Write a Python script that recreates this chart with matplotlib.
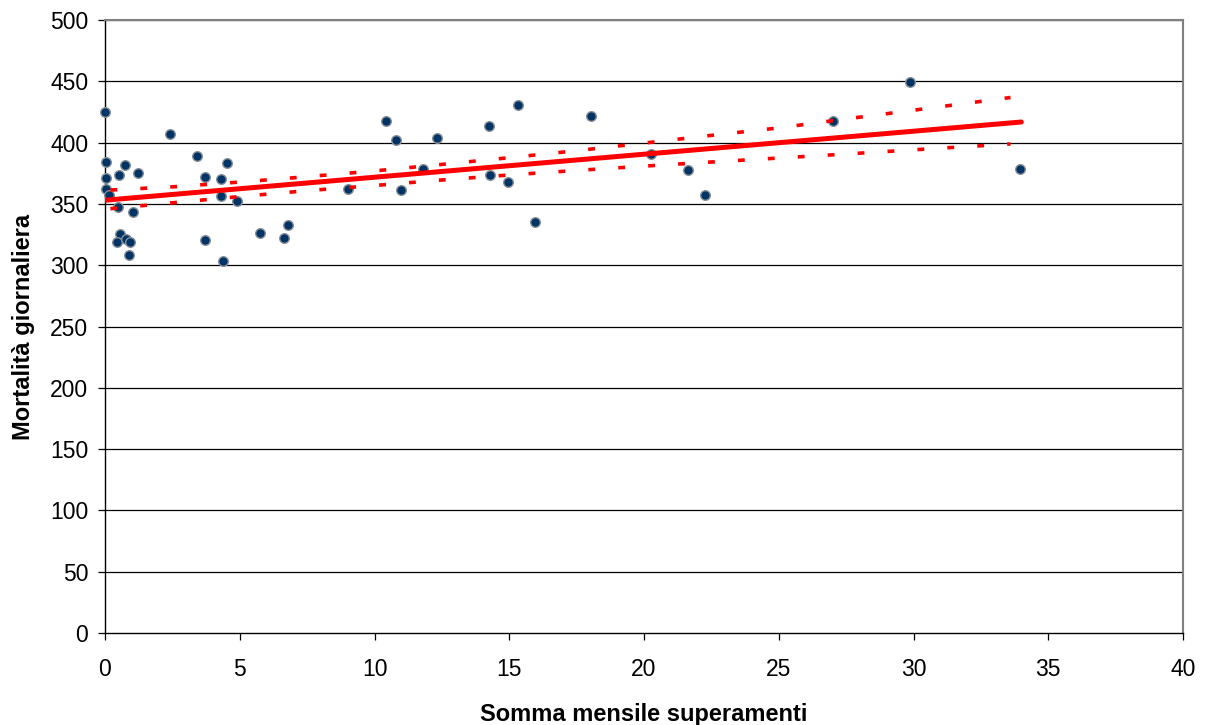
import matplotlib
matplotlib.use("Agg")
import matplotlib.pyplot as plt

plt.rcParams['font.family'] = ['Liberation Sans', 'DejaVu Sans']

# Scatter data: monthly sum of exceedances vs daily mortality
x_pts = [0.0, 0.03, 0.02, 0.02, 0.16, 2.42, 0.73, 0.53, 1.22, 0.49, 1.05, 0.54,
         0.46, 0.77, 0.92, 0.88, 3.43, 3.72, 4.29, 4.51, 4.29, 4.90, 3.72, 4.39,
         5.76, 6.63, 6.80, 9.03, 10.43, 10.81, 11.0, 11.81, 12.33, 14.25, 15.32,
         18.04, 14.3, 14.95, 15.97, 20.26, 21.63, 22.25, 29.87, 27.0, 33.96]
y_pts = [424.7, 384, 371, 362, 357.5, 407.3, 381.7, 373.3, 375, 347.2, 343.1, 325.7,
         318.9, 321.4, 319.2, 308.3, 389.1, 371.7, 370.6, 383.4, 356.4, 352.1, 320.6, 303.7,
         326, 322.4, 333, 362.4, 417.9, 402.1, 361, 378.7, 404, 413.3, 430.4,
         421.7, 373.3, 368.1, 335, 391, 377.4, 357.5, 449.2, 417.6, 378.5]

# Regression line end points
fit_x = [0.0, 34.0]
fit_y = [353.0, 416.8]

# Confidence band
band_x = [0.2, 2.5, 5, 7.5, 10, 12.5, 15, 17.5, 20, 22.5, 25, 27.5, 30, 33.6]
band_up = [361.3, 363.9, 367.8, 372.2, 376.9, 382.2, 387.7, 393.4, 399.6, 405.9,
           412.0, 419.3, 426.4, 436.8]
band_lo = [346.1, 350.9, 356.0, 360.8, 365.0, 369.5, 373.6, 377.3, 380.8, 384.2,
           387.4, 390.7, 394.1, 398.9]

x_ticks = [0, 5, 10, 15, 20, 25, 30, 35, 40]
y_ticks = [0, 50, 100, 150, 200, 250, 300, 350, 400, 450, 500]

fig = plt.figure(figsize=(12.12, 7.25), dpi=100)
ax = fig.add_axes([105/1212, 1-633/725, (1183-105)/1212, (633-20)/725])

ax.set_xlim(0, 40)
ax.set_ylim(0, 500)
ax.set_xticks(x_ticks)
ax.set_yticks(y_ticks)

for yv in y_ticks[1:]:
    ax.axhline(yv, color='black', lw=0.9, zorder=1)

ax.scatter(x_pts, y_pts, s=48, color='#003366', edgecolors='#8a8f96',
           linewidths=1.0, zorder=3, clip_on=False)

ax.plot(fit_x, fit_y, color='#ff0000', lw=3.6, solid_capstyle='round', zorder=4)
for b in (band_up, band_lo):
    ax.plot(band_x, b, color='#ff0000', lw=2.6, dashes=(1.9, 6.4), zorder=4)

for s in ('left', 'bottom'):
    ax.spines[s].set_color('black')
    ax.spines[s].set_linewidth(1.0)
for s in ('right', 'top'):
    ax.spines[s].set_color('#808080')
    ax.spines[s].set_linewidth(1.5)

ax.tick_params(axis='both', direction='out', length=5, width=0.9, labelsize=16.5,
               colors='black')
ax.tick_params(axis='x', pad=13)
ax.tick_params(axis='y', pad=7)

ax.set_xlabel('Somma mensile superamenti', fontsize=17, fontweight='bold', labelpad=16)
ax.set_ylabel('Mortalità giornaliera', fontsize=17, fontweight='bold', labelpad=11)

fig.savefig('out.png', dpi=100)
